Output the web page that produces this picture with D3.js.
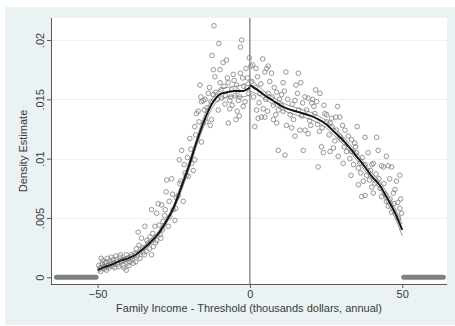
<!DOCTYPE html>
<html>
<head>
<meta charset="utf-8">
<script src="https://cdn.jsdelivr.net/npm/d3@7/dist/d3.min.js"></script>
<style>
  html, body { margin: 0; padding: 0; background: #ffffff; }
  svg { display: block; }
  text { font-family: "Liberation Sans", Arial, sans-serif; fill: #3a3a3a; }
</style>
</head>
<body>
<svg id="chart" width="455" height="326"></svg>
<script>
// Binned density of family income relative to the threshold (thousands of dollars)
const binsLeft = [
  [-49.6, 0.0010], [-49.2, 0.0008], [-49.0, 0.0005], [-48.8, 0.0016], [-48.5, 0.0011],
  [-48.3, 0.0014], [-48.0, 0.0009], [-47.8, 0.0007], [-47.6, 0.0012], [-47.1, 0.0013],
  [-47.1, 0.0006], [-46.8, 0.0016], [-46.5, 0.0010], [-46.2, 0.0008], [-46.0, 0.0014],
  [-45.7, 0.0012], [-45.5, 0.0017], [-45.0, 0.0009], [-44.9, 0.0015], [-44.6, 0.0012],
  [-44.3, 0.0008], [-44.0, 0.0018], [-43.8, 0.0015], [-43.4, 0.0011], [-43.1, 0.0009],
  [-42.7, 0.0017], [-42.5, 0.0019], [-42.2, 0.0013], [-41.8, 0.0014], [-41.6, 0.0010],
  [-41.3, 0.0008], [-41.1, 0.0015], [-40.6, 0.0019], [-40.6, 0.0006], [-40.3, 0.0016],
  [-40.0, 0.0012], [-39.7, 0.0010], [-39.4, 0.0013], [-39.0, 0.0019], [-38.8, 0.0017],
  [-38.5, 0.0015], [-38.3, 0.0012], [-37.8, 0.0020], [-37.5, 0.0013], [-37.3, 0.0024],
  [-36.9, 0.0018], [-36.7, 0.0038], [-36.4, 0.0027], [-36.1, 0.0016], [-35.6, 0.0033],
  [-35.3, 0.0025], [-35.0, 0.0021], [-34.7, 0.0019], [-34.5, 0.0043], [-34.0, 0.0022],
  [-33.8, 0.0031], [-33.4, 0.0029], [-33.0, 0.0024], [-32.8, 0.0034], [-32.3, 0.0057],
  [-32.3, 0.0019], [-31.9, 0.0037], [-31.7, 0.0026], [-31.2, 0.0043], [-31.0, 0.0029],
  [-30.6, 0.0031], [-30.6, 0.0054], [-30.1, 0.0062], [-29.8, 0.0044], [-29.5, 0.0036],
  [-29.2, 0.0033], [-29.0, 0.0061], [-28.7, 0.0040], [-28.5, 0.0047], [-28.0, 0.0052],
  [-27.8, 0.0057], [-27.5, 0.0072], [-27.3, 0.0082], [-26.8, 0.0043], [-26.5, 0.0064],
  [-26.3, 0.0051], [-25.7, 0.0083], [-25.4, 0.0070], [-25.2, 0.0057], [-24.6, 0.0048],
  [-24.4, 0.0058], [-24.1, 0.0067], [-23.5, 0.0069], [-23.2, 0.0099], [-23.0, 0.0079],
  [-22.7, 0.0081], [-22.4, 0.0107], [-21.9, 0.0064], [-21.6, 0.0095], [-21.3, 0.0088],
  [-20.8, 0.0086], [-20.5, 0.0101], [-20.2, 0.0085], [-19.7, 0.0117], [-19.4, 0.0108],
  [-19.1, 0.0096], [-18.6, 0.0090], [-18.1, 0.0127], [-18.1, 0.0099], [-17.8, 0.0120],
  [-17.5, 0.0138], [-17.0, 0.0140], [-16.7, 0.0131], [-16.4, 0.0162], [-16.1, 0.0152],
  [-15.9, 0.0114], [-15.9, 0.0148], [-15.3, 0.0149], [-15.0, 0.0141], [-14.7, 0.0150],
  [-14.4, 0.0131], [-14.1, 0.0143], [-13.6, 0.0155], [-13.3, 0.0160], [-13.0, 0.0128],
  [-12.8, 0.0148], [-12.6, 0.0133], [-12.4, 0.0187], [-12.0, 0.0154], [-12.0, 0.0175],
  [-11.8, 0.0212], [-11.5, 0.0169], [-11.2, 0.0156], [-10.7, 0.0150], [-10.4, 0.0141],
  [-10.2, 0.0197], [-9.8, 0.0175], [-9.8, 0.0164], [-9.5, 0.0158], [-9.3, 0.0151],
  [-8.8, 0.0181], [-8.5, 0.0161], [-8.2, 0.0146], [-8.0, 0.0153], [-7.7, 0.0183],
  [-7.4, 0.0168], [-7.1, 0.0164], [-7.1, 0.0130], [-6.6, 0.0149], [-6.6, 0.0142],
  [-6.3, 0.0152], [-6.0, 0.0158], [-5.8, 0.0145], [-5.5, 0.0171], [-5.2, 0.0166],
  [-4.9, 0.0153], [-4.6, 0.0133], [-4.4, 0.0162], [-4.2, 0.0140], [-4.0, 0.0157],
  [-3.8, 0.0149], [-3.5, 0.0136], [-3.3, 0.0152], [-3.1, 0.0194], [-3.1, 0.0172],
  [-2.7, 0.0200], [-2.4, 0.0168], [-2.2, 0.0144], [-2.0, 0.0161], [-1.6, 0.0148],
  [-1.3, 0.0176], [-1.0, 0.0160], [-0.8, 0.0168], [-0.4, 0.0155], [-0.2, 0.0185]
];

const binsRight = [
  [0.3, 0.0178], [0.6, 0.0165], [0.9, 0.0179], [1.2, 0.0152], [1.6, 0.0127],
  [1.8, 0.0160], [2.0, 0.0176], [2.2, 0.0141], [2.5, 0.0169], [2.7, 0.0134],
  [3.0, 0.0147], [3.3, 0.0155], [3.6, 0.0163], [3.8, 0.0135], [4.2, 0.0184],
  [4.4, 0.0142], [4.9, 0.0173], [4.9, 0.0135], [5.2, 0.0150], [5.5, 0.0176],
  [5.8, 0.0140], [6.0, 0.0155], [6.0, 0.0178], [6.5, 0.0165], [7.1, 0.0172],
  [7.3, 0.0152], [7.7, 0.0145], [7.7, 0.0133], [8.0, 0.0160], [8.5, 0.0137],
  [8.8, 0.0156], [8.8, 0.0130], [9.3, 0.0141], [9.3, 0.0107], [9.7, 0.0150],
  [10.2, 0.0145], [10.4, 0.0154], [10.9, 0.0164], [10.9, 0.0140], [11.3, 0.0157],
  [11.5, 0.0103], [11.8, 0.0173], [12.0, 0.0128], [12.4, 0.0150], [13.2, 0.0137],
  [13.7, 0.0126], [13.9, 0.0146], [14.3, 0.0133], [14.8, 0.0149], [14.8, 0.0119],
  [15.1, 0.0162], [15.6, 0.0155], [15.9, 0.0172], [16.0, 0.0141], [16.4, 0.0124],
  [16.7, 0.0164], [17.0, 0.0136], [17.3, 0.0147], [17.5, 0.0107], [18.1, 0.0124],
  [18.1, 0.0152], [18.6, 0.0141], [19.1, 0.0151], [19.1, 0.0121], [19.6, 0.0132],
  [20.0, 0.0128], [20.3, 0.0147], [20.6, 0.0150], [21.0, 0.0144], [21.3, 0.0138],
  [21.6, 0.0158], [21.9, 0.0148], [22.2, 0.0129], [22.4, 0.0093], [22.8, 0.0123],
  [23.0, 0.0155], [23.5, 0.0110], [23.7, 0.0126], [24.1, 0.0105], [24.3, 0.0145],
  [24.6, 0.0138], [25.2, 0.0137], [25.2, 0.0131], [26.0, 0.0120], [26.3, 0.0106],
  [26.3, 0.0130], [26.8, 0.0134], [27.0, 0.0127], [27.4, 0.0109], [27.9, 0.0115],
  [28.2, 0.0135], [28.4, 0.0124], [28.8, 0.0144], [29.0, 0.0102], [29.5, 0.0135],
  [29.5, 0.0119], [30.1, 0.0116], [30.4, 0.0128], [30.6, 0.0096], [31.0, 0.0110],
  [31.2, 0.0124], [31.7, 0.0106], [32.3, 0.0119], [32.8, 0.0100], [33.2, 0.0086],
  [33.4, 0.0116], [33.4, 0.0106], [34.0, 0.0095], [34.4, 0.0113], [34.7, 0.0110],
  [35.0, 0.0105], [35.2, 0.0127], [35.6, 0.0092], [35.6, 0.0078], [36.1, 0.0096],
  [36.4, 0.0088], [36.7, 0.0068], [36.9, 0.0101], [37.2, 0.0081], [37.8, 0.0118],
  [37.8, 0.0095], [37.8, 0.0069], [38.3, 0.0086], [38.8, 0.0105], [39.2, 0.0082],
  [39.6, 0.0090], [40.0, 0.0095], [40.0, 0.0076], [40.5, 0.0096], [40.5, 0.0071],
  [41.0, 0.0079], [41.4, 0.0087], [41.6, 0.0118], [42.1, 0.0107], [42.4, 0.0083],
  [42.7, 0.0075], [43.2, 0.0094], [43.2, 0.0068], [43.8, 0.0093], [44.0, 0.0079],
  [44.4, 0.0070], [44.8, 0.0102], [44.8, 0.0064], [45.4, 0.0094], [45.4, 0.0060],
  [45.9, 0.0083], [46.0, 0.0066], [46.5, 0.0093], [46.5, 0.0055], [47.1, 0.0071],
  [47.3, 0.0062], [47.6, 0.0074], [48.1, 0.0081], [48.5, 0.0063], [48.8, 0.0050],
  [49.2, 0.0086], [49.2, 0.0058], [49.5, 0.0066], [49.8, 0.0054]
];

// Empty bins beyond the +/-50 window (density zero)
const zeroRuns = [[-63.5, -50.5], [50.5, 63.5]];

// Local linear fit on each side of the cutoff, with confidence band
const fitX_L  = [-50, -47.5, -45, -42.5, -40, -37.5, -35, -32.5, -30, -27.5, -25, -22.5, -20, -17.5, -15, -12.5, -10, -7.5, -5, -2.5, 0];
const fitY_L  = [0.0006, 0.0009, 0.0011, 0.0014, 0.0016, 0.0019, 0.0024, 0.0030, 0.0037, 0.0047, 0.0059, 0.0076, 0.0094, 0.0114, 0.0132, 0.0146, 0.0154, 0.0156, 0.0157, 0.0157, 0.0160];
const ciLo_L  = [0.0004, 0.0007, 0.0009, 0.0012, 0.0014, 0.0017, 0.0022, 0.0028, 0.0035, 0.0045, 0.0057, 0.0073, 0.0091, 0.0111, 0.0128, 0.0142, 0.0150, 0.0152, 0.0153, 0.0152, 0.0154];
const ciHi_L  = [0.0008, 0.0011, 0.0013, 0.0016, 0.0018, 0.0021, 0.0026, 0.0032, 0.0039, 0.0049, 0.0061, 0.0079, 0.0097, 0.0117, 0.0136, 0.0150, 0.0158, 0.0160, 0.0161, 0.0162, 0.0166];

const fitX_R  = [0, 2.5, 5, 7.5, 10, 12.5, 15, 17.5, 20, 22.5, 25, 27.5, 30, 32.5, 35, 37.5, 40, 42.5, 45, 47.5, 50];
const fitY_R  = [0.0162, 0.0158, 0.0153, 0.0149, 0.0145, 0.0142, 0.0140, 0.0138, 0.0136, 0.0133, 0.0129, 0.0123, 0.0117, 0.0110, 0.0102, 0.0094, 0.0085, 0.0078, 0.0067, 0.0055, 0.0040];
const ciLo_R  = [0.0157, 0.0154, 0.0150, 0.0146, 0.0142, 0.0139, 0.0137, 0.0135, 0.0133, 0.0130, 0.0126, 0.0120, 0.0114, 0.0107, 0.0099, 0.0091, 0.0082, 0.0075, 0.0063, 0.0051, 0.0035];
const ciHi_R  = [0.0167, 0.0162, 0.0156, 0.0152, 0.0148, 0.0145, 0.0143, 0.0141, 0.0139, 0.0136, 0.0132, 0.0126, 0.0120, 0.0113, 0.0105, 0.0097, 0.0088, 0.0081, 0.0071, 0.0059, 0.0045];

const xTicks = [-50, 0, 50];
const yTicks = [0, 0.005, 0.01, 0.015, 0.02];
const yTickLabels = ["0", ".005", ".01", ".015", ".02"];
const xTitle = "Family Income - Threshold (thousands dollars, annual)";
const yTitle = "Density Estimate";

const svg = d3.select("#chart");
const W = 455, H = 326;
const plot = { left: 51, right: 447, top: 18, bottom: 284 };

const x = d3.scaleLinear().domain([-65.3, 64.7]).range([plot.left, plot.right]);
const y = d3.scaleLinear().domain([-0.000565, 0.021854]).range([plot.bottom, plot.top]);

// Graph region and plot region backgrounds
svg.append("rect").attr("x", 5).attr("y", 7).attr("width", W - 5).attr("height", H - 8)
  .attr("fill", "#eaf2f3");
svg.append("rect").attr("x", plot.left).attr("y", plot.top)
  .attr("width", plot.right - plot.left).attr("height", plot.bottom - plot.top)
  .attr("fill", "#ffffff");

// Horizontal grid lines
svg.append("g").selectAll("line").data(yTicks.filter(d => d > 0)).join("line")
  .attr("x1", plot.left).attr("x2", plot.right)
  .attr("y1", d => Math.round(y(d)) + 0.5).attr("y2", d => Math.round(y(d)) + 0.5)
  .attr("stroke", "#eaf2f3").attr("stroke-width", 1);

// Y axis
const yAxis = d3.axisLeft(y).tickValues(yTicks).tickSize(4).tickPadding(3)
  .tickFormat((d, i) => yTickLabels[i]);
const gy = svg.append("g").attr("transform", `translate(${plot.left},0)`).call(yAxis);
gy.select(".domain").attr("stroke", "#5a5a5a").attr("d", `M0.5,${plot.top}V${plot.bottom}`);
gy.selectAll(".tick line").attr("stroke", "#5a5a5a");
gy.selectAll(".tick text")
  .attr("font-size", 11).attr("fill", "#3a3a3a")
  .attr("text-anchor", "middle").attr("dy", 0)
  .attr("x", null)
  .attr("transform", "translate(-7.5,0) rotate(-90)");

// X axis
const xAxis = d3.axisBottom(x).tickValues(xTicks).tickSize(4).tickPadding(2);
const gx = svg.append("g").attr("transform", `translate(0,${plot.bottom})`).call(xAxis);
gx.select(".domain").attr("stroke", "#5a5a5a").attr("d", `M${plot.left},0.5H${plot.right}`);
gx.selectAll(".tick line").attr("stroke", "#5a5a5a");
gx.selectAll(".tick text").attr("font-size", 11).attr("fill", "#3a3a3a");

// Axis titles
svg.append("text").attr("x", (plot.left + plot.right) / 2).attr("y", 312)
  .attr("text-anchor", "middle").attr("font-size", 11).text(xTitle);
svg.append("text")
  .attr("transform", `translate(27,${(plot.top + plot.bottom) / 2}) rotate(-90)`)
  .attr("text-anchor", "middle").attr("font-size", 11).text(yTitle);

// Cutoff line
svg.append("line")
  .attr("x1", x(0)).attr("x2", x(0)).attr("y1", plot.top).attr("y2", plot.bottom)
  .attr("stroke", "#555555").attr("stroke-width", 1);

// Zero-density bins outside the window
svg.append("g").selectAll("line").data(zeroRuns).join("line")
  .attr("x1", d => x(d[0])).attr("x2", d => x(d[1]))
  .attr("y1", y(0)).attr("y2", y(0))
  .attr("stroke", "#808080").attr("stroke-width", 5).attr("stroke-linecap", "round");

// Binned scatter
svg.append("g").selectAll("circle").data(binsLeft.concat(binsRight)).join("circle")
  .attr("cx", d => x(d[0])).attr("cy", d => y(d[1])).attr("r", 2.3)
  .attr("fill", "none").attr("stroke", "#8a8a8a").attr("stroke-width", 0.9);

// Fitted curves and confidence bands
const line = d3.line().x(d => x(d[0])).y(d => y(d[1])).curve(d3.curveMonotoneX);
const sides = [
  { xs: fitX_L, fit: fitY_L, lo: ciLo_L, hi: ciHi_L },
  { xs: fitX_R, fit: fitY_R, lo: ciLo_R, hi: ciHi_R }
];
sides.forEach(s => {
  [s.lo, s.hi].forEach(band => {
    svg.append("path").datum(s.xs.map((v, i) => [v, band[i]]))
      .attr("d", line).attr("fill", "none")
      .attr("stroke", "#7a7a7a").attr("stroke-width", 0.8);
  });
  svg.append("path").datum(s.xs.map((v, i) => [v, s.fit[i]]))
    .attr("d", line).attr("fill", "none")
    .attr("stroke", "#151515").attr("stroke-width", 2);
});
</script>
</body>
</html>
